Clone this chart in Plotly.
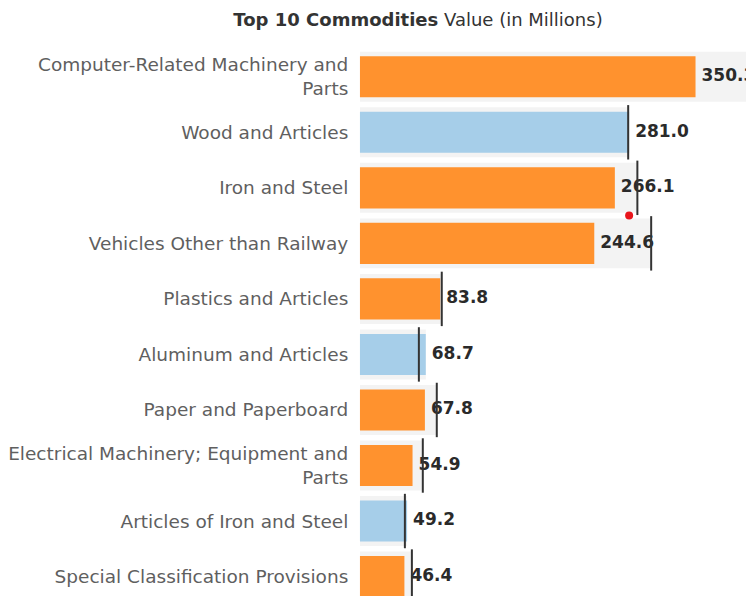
import plotly.graph_objects as go

# Top 10 commodities by value (millions) with their reference targets
categories = [
    "Computer-Related Machinery and<br>Parts",
    "Wood and Articles",
    "Iron and Steel",
    "Vehicles Other than Railway",
    "Plastics and Articles",
    "Aluminum and Articles",
    "Paper and Paperboard",
    "Electrical Machinery; Equipment and<br>Parts",
    "Articles of Iron and Steel",
    "Special Classification Provisions",
]
values = [350.3, 281.0, 266.1, 244.6, 83.8, 68.7, 67.8, 54.9, 49.2, 46.4]
targets = [420.0, 280.0, 289.6, 304.0, 85.4, 61.5, 80.2, 65.6, 46.9, 54.2]

# single highlighted point (value, row position)
highlight_x = [281.0]
highlight_y = [2.5]

ORANGE = "#FF922E"
BLUE = "#A6CEE9"
BAND = "#F3F3F3"
FONT = "DejaVu Sans"

rows = list(range(len(categories)))
bar_colors = [BLUE if v >= t else ORANGE for v, t in zip(values, targets)]
band_x = [max(v, t) for v, t in zip(values, targets)]

fig = go.Figure()

# light background band up to the larger of value and target
fig.add_trace(go.Bar(
    x=band_x, y=rows, orientation="h", width=0.9,
    marker=dict(color=BAND, line=dict(width=0)),
    hoverinfo="skip", showlegend=False,
))

# actual values
fig.add_trace(go.Bar(
    x=values, y=rows, orientation="h", width=0.74,
    marker=dict(color=bar_colors, line=dict(width=0)),
    showlegend=False,
))

# value labels
fig.add_trace(go.Scatter(
    x=values, y=rows, mode="markers+text",
    marker=dict(size=8, color="rgba(0,0,0,0)"),
    text=[f"{v:.1f}" for v in values],
    textposition="middle right",
    textfont=dict(family=FONT, size=17, color="#2a2a2a", weight="bold"),
    cliponaxis=False, hoverinfo="skip", showlegend=False,
))

# target markers
tx, ty = [], []
for r, t in zip(rows, targets):
    tx += [t, t, None]
    ty += [r - 0.49, r + 0.49, None]
fig.add_trace(go.Scatter(
    x=tx, y=ty, mode="lines",
    line=dict(color="#333333", width=2),
    hoverinfo="skip", showlegend=False,
))

fig.add_trace(go.Scatter(
    x=highlight_x, y=highlight_y, mode="markers",
    marker=dict(color="#E8141B", size=8),
    hoverinfo="skip", showlegend=False,
))

fig.update_layout(
    width=746, height=596,
    margin=dict(l=359, r=0, t=49, b=0),
    paper_bgcolor="white", plot_bgcolor="white",
    barmode="overlay",
    title=dict(
        text="<b>Top 10 Commodities</b> Value (in Millions)",
        x=418 / 746, xref="container", xanchor="center",
        y=1 - 20 / 596, yref="container", yanchor="middle",
        font=dict(family=FONT, size=18, color="#333333"),
    ),
    xaxis=dict(range=[-1, 403], visible=False, fixedrange=True),
    yaxis=dict(
        range=[9.35, -0.5], tickvals=rows, ticktext=categories,
        ticks="outside", ticklen=6, tickcolor="rgba(0,0,0,0)",
        showgrid=False, zeroline=False, showline=False,
        tickfont=dict(family=FONT, size=18.5, color="#5f5f5f"),
    ),
)

fig.write_html("out.html")
